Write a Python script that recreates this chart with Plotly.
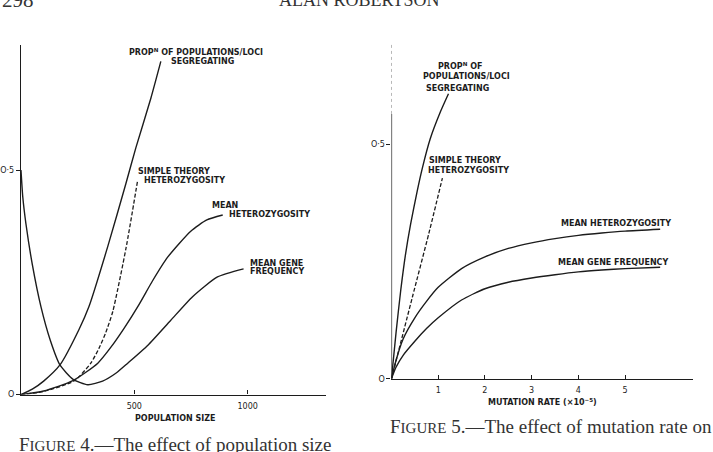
import plotly.graph_objects as go

W, H = 713, 452
INK = "#1c1c1c"
SANS = "DejaVu Sans"
SERIF = "Liberation Serif"

# ---------------- Figure 4: effect of population size ----------------
pop_prop_x = [0, 50, 100, 172, 256, 300, 383, 463, 507, 573, 617]
pop_prop_y = [0, 0.012, 0.03, 0.066, 0.145, 0.196, 0.33, 0.47, 0.55, 0.66, 0.742]

pop_simple_x = [0, 100, 236, 308, 344, 374, 405, 463, 515]
pop_simple_y = [0, 0.007, 0.031, 0.07, 0.103, 0.138, 0.185, 0.325, 0.478]

pop_het_x = [0, 100, 229, 339, 396, 454, 520, 580, 647, 749, 820, 890]
pop_het_y = [0, 0.008, 0.031, 0.07, 0.105, 0.147, 0.2, 0.253, 0.306, 0.364, 0.389, 0.40]

pop_freq_x = [0, 8, 22, 50, 88, 130, 172, 230, 295, 360, 420, 471, 560, 660, 757, 867, 982]
pop_freq_y = [0.5, 0.44, 0.38, 0.29, 0.196, 0.12, 0.066, 0.034, 0.022, 0.03, 0.048, 0.07,
              0.11, 0.165, 0.218, 0.262, 0.28]

pop_xticks = [500, 1000]
pop_xticktext = ["500", "1000"]
pop_yticks = [0, 0.5]
pop_yticktext = ["O", "O·5"]

# ---------------- Figure 5: effect of mutation rate ----------------
mut_prop_x = [0, 0.1, 0.2, 0.3, 0.41, 0.55, 0.66, 0.83, 1.05, 1.22]
mut_prop_y = [0, 0.1, 0.19, 0.265, 0.33, 0.4, 0.449, 0.512, 0.57, 0.608]

mut_simple_x = [0, 0.45, 0.8, 1.09]
mut_simple_y = [0, 0.175, 0.31, 0.428]

mut_het_x = [0, 0.1, 0.25, 0.5, 0.75, 1.0, 1.5, 2.0, 2.5, 3.0, 3.5, 4.0, 4.5, 5.0, 5.75]
mut_het_y = [0, 0.04, 0.085, 0.13, 0.165, 0.195, 0.235, 0.26, 0.278, 0.29, 0.299, 0.306,
             0.311, 0.315, 0.319]

mut_freq_x = [0, 0.1, 0.25, 0.5, 0.75, 1.0, 1.5, 2.0, 2.5, 3.0, 3.5, 4.0, 4.5, 5.0, 5.75]
mut_freq_y = [0, 0.025, 0.05, 0.08, 0.107, 0.13, 0.168, 0.192, 0.206, 0.215, 0.222, 0.228,
              0.232, 0.235, 0.238]

mut_xticks = [1, 2, 3, 4, 5]
mut_xticktext = ["1", "2", "3", "4", "5"]
mut_yticks = [0, 0.5]
mut_yticktext = ["O", "O·5"]


def px(x):
    return x / W


def py(y):
    return 1 - y / H


fig = go.Figure()

solid = dict(color=INK, width=1.4, shape="spline", smoothing=0.6)
dashed = dict(color=INK, width=1.3, dash="4px,2px", shape="spline", smoothing=0.6)

for xs, ys, ln in [(pop_prop_x, pop_prop_y, solid), (pop_simple_x, pop_simple_y, dashed),
                   (pop_het_x, pop_het_y, solid), (pop_freq_x, pop_freq_y, solid)]:
    fig.add_trace(go.Scatter(x=xs, y=ys, mode="lines", line=ln, xaxis="x", yaxis="y",
                             showlegend=False, hoverinfo="skip"))

for xs, ys, ln in [(mut_prop_x, mut_prop_y, solid), (mut_simple_x, mut_simple_y, dashed),
                   (mut_het_x, mut_het_y, solid), (mut_freq_x, mut_freq_y, solid)]:
    fig.add_trace(go.Scatter(x=xs, y=ys, mode="lines", line=ln, xaxis="x2", yaxis="y2",
                             showlegend=False, hoverinfo="skip"))

tickfont = dict(family=SANS, size=8, color=INK)
common = dict(showgrid=False, zeroline=False, linecolor=INK, linewidth=1.3,
              tickcolor=INK, tickwidth=1.2, tickfont=tickfont, fixedrange=True)

fig.update_layout(
    width=W, height=H,
    margin=dict(l=0, r=0, t=0, b=0),
    paper_bgcolor="white", plot_bgcolor="white",
    xaxis=dict(domain=[px(20), px(325)], range=[0, (325 - 20) / 0.227], showline=True,
               ticks="inside", ticklen=4, tickvals=pop_xticks, ticktext=pop_xticktext,
               ticklabelstandoff=4, anchor="y", **common),
    yaxis=dict(domain=[py(399), py(45)], range=[0, (399 - 45) / 454], showline=True,
               ticks="outside", ticklen=4, tickvals=pop_yticks, ticktext=pop_yticktext,
               anchor="x", **common),
    xaxis2=dict(domain=[px(391), px(693)], range=[0, (693 - 391) / 46.8], showline=True,
                ticks="inside", ticklen=4, tickvals=mut_xticks, ticktext=mut_xticktext,
                ticklabelstandoff=3, anchor="y2", **common),
    yaxis2=dict(domain=[py(383), py(43)], range=[0, (383 - 43) / 474], showline=False,
                ticks="outside", ticklen=4, tickvals=mut_yticks, ticktext=mut_yticktext,
                anchor="x2", **common),
)

# right-hand y axis: solid lower part, faint dotted upper part
fig.add_shape(type="line", xref="x2", yref="y2", x0=0, x1=0, y0=0, y1=0.565,
              line=dict(color=INK, width=1.3))
fig.add_shape(type="line", xref="x2", yref="y2", x0=0, x1=0, y0=0.565, y1=0.717,
              line=dict(color="#777", width=1, dash="dot"))

anns = []


def ann(text, x, y, xanchor="left", size=8, family=SANS, bold=True, color=INK):
    anns.append(dict(text=f"<b>{text}</b>" if bold else text, x=px(x), y=py(y),
                     xref="paper", yref="paper", xanchor=xanchor, yanchor="middle",
                     showarrow=False, font=dict(size=size, family=family, color=color)))


# Figure 4 labels
ann("PROP<sup>N</sup> OF POPULATIONS/LOCI", 195, 53, "center")
ann("SEGREGATING", 202, 62, "center")
ann("SIMPLE THEORY", 135, 173)
ann("HETEROZYGOSITY", 141, 183)
ann("MEAN", 209, 208)
ann("HETEROZYGOSITY", 226, 217)
ann("MEAN GENE", 247, 266)
ann("FREQUENCY", 247, 275)
ann("POPULATION SIZE", 174, 423, "center")

# Figure 5 labels
ann("PROP<sup>N</sup> OF", 460, 67, "center")
ann("POPULATIONS/LOCI", 466, 77, "center")
ann("SEGREGATING", 457, 89, "center")
ann("SIMPLE THEORY", 427, 162)
ann("HETEROZYGOSITY", 426, 172)
ann("MEAN HETEROZYGOSITY", 559, 226)
ann("MEAN GENE FREQUENCY", 556, 265)
ann("MUTATION RATE (×10<sup>−5</sup>)", 542, 406, "center")

# page header and captions
ann("298", -1, 0, "left", size=21, family=SERIF, bold=False, color="#333")
ann("ALAN ROBERTSON", 359, 0, "center", size=18, family=SERIF, bold=False, color="#333")
ann("F<span style='font-size:15px'>IGURE</span> 4.—The effect of population size",
    16, 449, "left", size=19, family=SERIF, bold=False, color="#333")
ann("F<span style='font-size:15px'>IGURE</span> 5.—The effect of mutation rate on",
    388, 431, "left", size=19, family=SERIF, bold=False, color="#333")

fig.update_layout(annotations=anns)

fig.write_html("out.html")
